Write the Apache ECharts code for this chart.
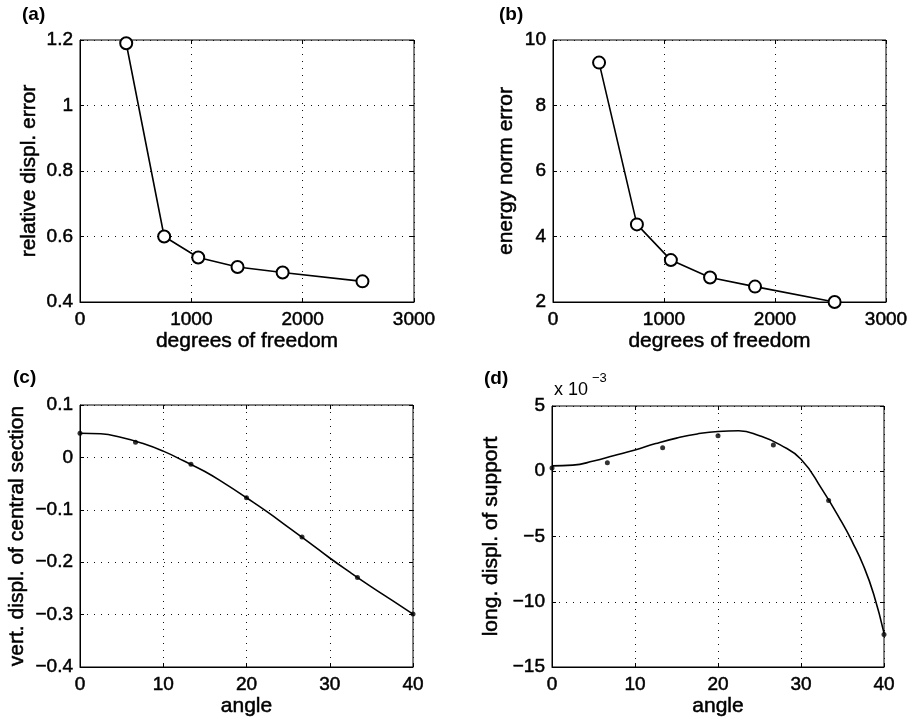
<!DOCTYPE html>
<html lang="en">
<head>
    <meta charset="UTF-8">
    <title>convergence-and-displacement</title>
    <script src="https://cdn.jsdelivr.net/npm/echarts@6.0.0/dist/echarts.min.js"></script>
    <style>
        html, body { margin: 0; padding: 0; background: #fff; }
    </style>
</head>
<body>
<div id="main" style="width: 913px;height:724px;"></div>
<script>
    // (a) (b): error vs degrees of freedom
    var dof = [415, 756, 1062, 1415, 1820, 2537];
    var relErr = [1.19, 0.60, 0.536, 0.507, 0.49, 0.463];
    var energyErr = [9.31, 4.37, 3.28, 2.75, 2.47, 2.0];

    // (c) (d): displacements vs angle, measured points + fitted curve
    var dotAngles = [0, 6.67, 13.33, 20, 26.67, 33.33, 40];
    var vertDots = [0.046, 0.029, -0.013, -0.077, -0.152, -0.229, -0.299];
    var vertAngles = [0, 2.5, 5, 7.5, 10, 12.5, 15, 17.5, 20, 22.5, 25, 27.5, 30, 32.5, 35, 37.5, 40];
    var vertCurve = [0.046, 0.045, 0.038, 0.027, 0.012, -0.007, -0.027, -0.051, -0.077, -0.104, -0.133, -0.162, -0.192, -0.220, -0.247, -0.273, -0.299];
    // long. displ. in units of 1e-3
    var longDots = [0.25, 0.65, 1.81, 2.72, 2.02, -2.25, -12.5];
    var longAngles = [0, 2.5, 5, 7.5, 10, 12.5, 15, 17.5, 20, 22.5, 25, 27.5, 30, 32.5, 35, 36.25, 37.5, 38.75, 40];
    var longCurve = [0.41, 0.47, 0.78, 1.2, 1.63, 2.12, 2.54, 2.86, 3.05, 3.1, 2.72, 2.02, 0.92, -1.35, -4.0, -5.5, -7.2, -9.4, -12.4];

    var font = 'Liberation Sans, Arial, Helvetica, sans-serif';

    function pairs(xs, ys) {
        var out = [];
        for (var i = 0; i < xs.length; i++) out.push([xs[i], ys[i]]);
        return out;
    }
    function plainFmt(v) {
        return String(+v.toFixed(6)).replace('-', '\u2212');
    }

    var grids = [
        {left: 80, top: 40, width: 334, height: 262},
        {left: 553, top: 40, width: 333, height: 262},
        {left: 80, top: 405, width: 333, height: 262},
        {left: 552, top: 406, width: 332, height: 261}
    ];
    grids.forEach(function (g) {
        g.show = true;
        g.borderColor = '#000';
        g.borderWidth = 1;
        g.backgroundColor = '#fff';
    });

    var xDefs = [
        {min: 0, max: 3000, interval: 1000, name: 'degrees of freedom'},
        {min: 0, max: 3000, interval: 1000, name: 'degrees of freedom'},
        {min: 0, max: 40, interval: 10, name: 'angle'},
        {min: 0, max: 40, interval: 10, name: 'angle'}
    ];
    var yDefs = [
        {min: 0.4, max: 1.2, interval: 0.2, name: 'relative displ. error', gap: 40},
        {min: 2, max: 10, interval: 2, name: 'energy norm error', gap: 36},
        {min: -0.4, max: 0.1, interval: 0.1, name: 'vert. displ. of central section', gap: 52},
        {min: -15, max: 5, interval: 5, name: 'long. displ. of support', gap: 50}
    ];

    var gridLine = {show: true, lineStyle: {color: '#111', width: 1, type: [1, 6]}};
    var tick = {show: true, inside: true, length: 4, lineStyle: {color: '#000'}};
    var labelStyle = {fontFamily: font, fontSize: 19, color: '#000', textBorderColor: '#000', textBorderWidth: 0.5};
    var nameStyle = {fontFamily: font, fontSize: 21, color: '#000', textBorderColor: '#000', textBorderWidth: 0.5};
    var xAxes = [], yAxes = [];
    for (var i = 0; i < 4; i++) {
        var xd = xDefs[i], yd = yDefs[i];
        xAxes.push({
            type: 'value', gridIndex: i, min: xd.min, max: xd.max, interval: xd.interval,
            name: xd.name, nameLocation: 'middle', nameGap: 28, nameTextStyle: nameStyle,
            axisLine: {show: true, onZero: false, lineStyle: {color: '#000', width: 1}},
            axisTick: tick,
            axisLabel: Object.assign({margin: 8, formatter: plainFmt}, labelStyle),
            splitLine: gridLine
        });
        xAxes.push({
            type: 'value', gridIndex: i, position: 'top', min: xd.min, max: xd.max, interval: xd.interval,
            axisLine: {show: false, onZero: false}, axisLabel: {show: false}, splitLine: {show: false},
            axisTick: tick
        });
        yAxes.push({
            type: 'value', gridIndex: i, min: yd.min, max: yd.max, interval: yd.interval,
            name: yd.name, nameLocation: 'middle', nameGap: yd.gap, nameRotate: 90, nameTextStyle: nameStyle,
            axisLine: {show: true, onZero: false, lineStyle: {color: '#000', width: 1}},
            axisTick: tick,
            axisLabel: Object.assign({margin: 7, formatter: plainFmt}, labelStyle),
            splitLine: gridLine
        });
        yAxes.push({
            type: 'value', gridIndex: i, position: 'right', min: yd.min, max: yd.max, interval: yd.interval,
            axisLine: {show: false, onZero: false}, axisLabel: {show: false}, splitLine: {show: false},
            axisTick: tick
        });
    }

    var lineStyle = {color: '#000', width: 1.6};
    var series = [
        {
            type: 'line', xAxisIndex: 0, yAxisIndex: 0, data: pairs(dof, relErr),
            symbol: 'emptyCircle', symbolSize: 12, lineStyle: lineStyle,
            itemStyle: {color: '#000', borderColor: '#000', borderWidth: 1.4}
        },
        {
            type: 'line', xAxisIndex: 2, yAxisIndex: 2, data: pairs(dof, energyErr),
            symbol: 'emptyCircle', symbolSize: 12, lineStyle: lineStyle,
            itemStyle: {color: '#000', borderColor: '#000', borderWidth: 1.4}
        },
        {
            type: 'line', xAxisIndex: 4, yAxisIndex: 4, data: pairs(vertAngles, vertCurve),
            smooth: 0.5, showSymbol: false, lineStyle: lineStyle
        },
        {
            type: 'scatter', xAxisIndex: 4, yAxisIndex: 4, data: pairs(dotAngles, vertDots),
            symbolSize: 5, itemStyle: {color: '#000'}
        },
        {
            type: 'line', xAxisIndex: 6, yAxisIndex: 6, data: pairs(longAngles, longCurve),
            smooth: 0.5, showSymbol: false, lineStyle: lineStyle
        },
        {
            type: 'scatter', xAxisIndex: 6, yAxisIndex: 6, data: pairs(dotAngles, longDots),
            symbolSize: 5, itemStyle: {color: '#000'}
        }
    ];
    series.forEach(function (s) { s.silent = true; s.animation = false; s.clip = false; });

    function label(txt, x, y, size, weight) {
        return {
            type: 'text', left: x, top: y,
            style: {text: txt, fontFamily: font, fontSize: size, fontWeight: weight || 'normal', fill: '#000'}
        };
    }

    var chart = echarts.init(document.getElementById('main'));
    chart.setOption({
        animation: false,
        backgroundColor: '#fff',
        grid: grids,
        xAxis: xAxes,
        yAxis: yAxes,
        series: series,
        graphic: [
            label('(a)', 22, 5, 19, 'bold'),
            label('(b)', 499, 5, 19, 'bold'),
            label('(c)', 13, 368, 19, 'bold'),
            label('(d)', 484, 369, 19, 'bold'),
            label('x 10', 554, 381, 18),
            label('\u22123', 592, 372, 13)
        ]
    });
</script>
</body>
</html>
